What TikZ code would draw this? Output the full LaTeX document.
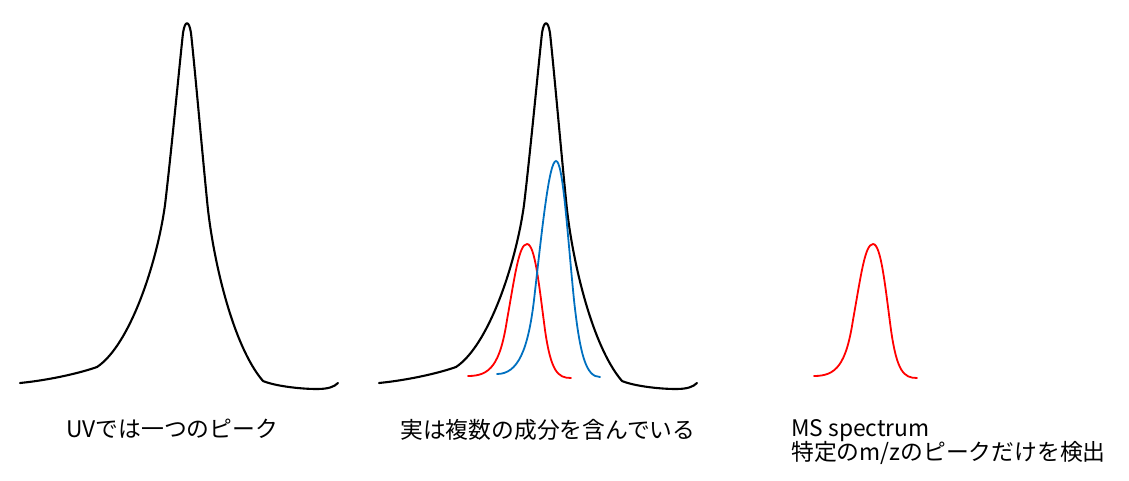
\documentclass[tikz,border=0pt]{standalone}
\usepackage{fontspec}
\setmainfont{Noto Sans CJK JP}
\definecolor{msred}{RGB}{255,0,0}
\definecolor{compblue}{RGB}{0,112,192}
\tikzset{
x=1pt, y=-1pt, % one unit is one pixel, y runs downwards
uvline/.style={line width=2.1pt, black, line cap=round, line join=round}, % the UV trace
redline/.style={line width=1.8pt, msred, line cap=round}, % first component
blueline/.style={line width=1.8pt, compblue, line cap=round}, % second component
captxt/.style={font=\fontsize{22.8}{26}\selectfont, inner sep=0pt, anchor=base west}, % text under each panel
uvpeak/.pic={
  \draw[uvline] (20,383) .. controls (50,380) and (80,373) .. (97,367)
    .. controls (130,345) and (157,263) .. (165,205)
    .. controls (171,155) and (180,60) .. (183,33)
    .. controls (185,20) and (189,20) .. (191,33)
    .. controls (195,70) and (202,150) .. (207,200)
    .. controls (212,255) and (232,345) .. (263,381)
    .. controls (275,386) and (300,389) .. (317,389)
    .. controls (328,389) and (334,387) .. (338,383);
},
redpeak/.pic={
  \draw[redline] (468,376) .. controls (490,376) and (500,365) .. (507,320)
    .. controls (515,275) and (519,244) .. (527,244)
    .. controls (535,244) and (539,285) .. (545,330)
    .. controls (551,372) and (558,378) .. (571,378);
},
}

\begin{document}
\begin{tikzpicture}
  \useasboundingbox (0,0) rectangle (1129,480);
  % UV alone
  \pic at (0,0) {uvpeak};
  \node[captxt] (uvlabel) at (66,437) {UVでは一つのピーク};
  % UV with the two hidden components
  \pic at (359,0) {uvpeak};
  \pic at (0,0) {redpeak};
  \draw[blueline] (497,374) .. controls (518,374) and (528,350) .. (534,300)
    .. controls (542,230) and (549,161) .. (556,161)
    .. controls (563,161) and (567,230) .. (574,300)
    .. controls (580,355) and (586,377) .. (600,377);
  \node[captxt] (mixlabel) at (400,438) {実は複数の成分を含んでいる};
  % MS trace
  \pic at (346,0) {redpeak};
  \node[captxt] (mstitle) at (791,436) {MS spectrum};
  \node[captxt] (msnote) at (791,460) {特定のm/zのピークだけを検出};
\end{tikzpicture}
\end{document}
